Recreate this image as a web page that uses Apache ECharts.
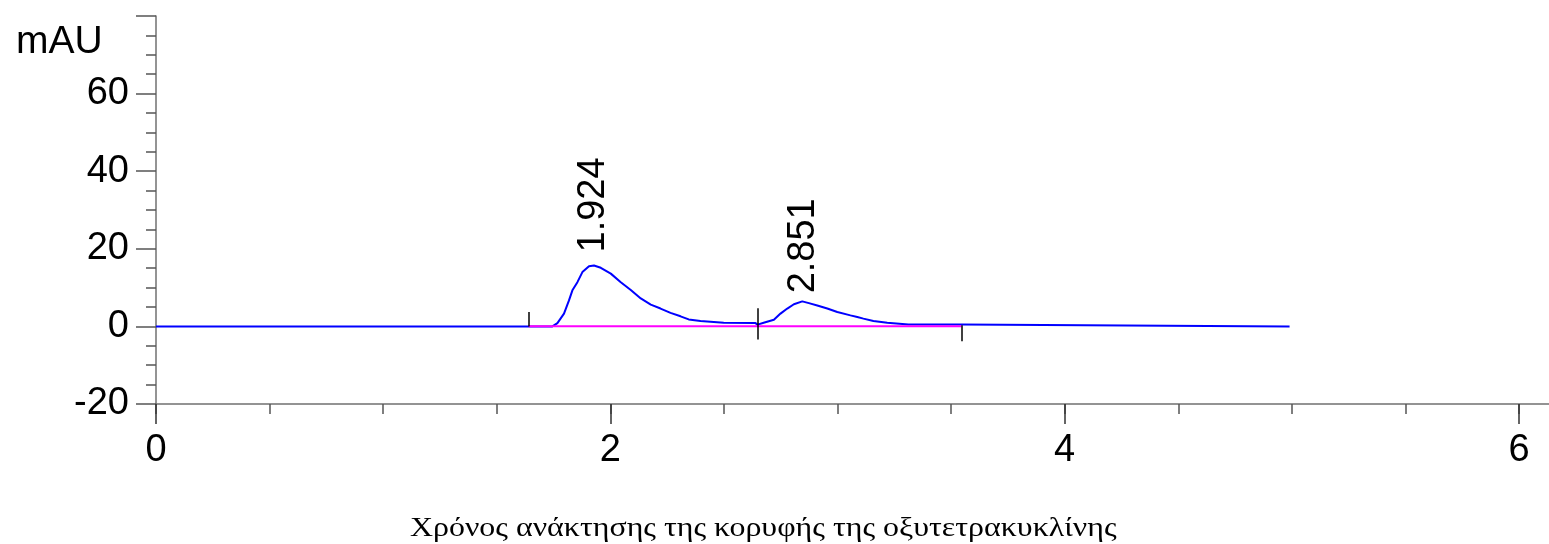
<!DOCTYPE html>
<html><head><meta charset="utf-8">
<script src="https://cdn.jsdelivr.net/npm/echarts@6/dist/echarts.min.js"></script>
<style>html,body{margin:0;padding:0;background:#fff}#c{width:1549px;height:544px}</style>
</head><body><div id="c"></div>
<script>
// Chromatogram trace (time in min, signal in mAU)
const timeMin = [0, 1.64, 1.745, 1.767, 1.796, 1.818, 1.833, 1.855, 1.877, 1.906, 1.928, 1.958, 2.002, 2.046, 2.090, 2.134, 2.178, 2.221, 2.265, 2.309, 2.345, 2.397, 2.499, 2.639, 2.648, 2.675, 2.720, 2.749, 2.779, 2.808, 2.845, 2.874, 2.911, 2.955, 2.999, 3.057, 3.087, 3.114, 3.158, 3.219, 3.312, 3.545, 3.55, 4.99];
const signal  = [0, 0, 0, 0.85, 3.3, 6.7, 9.3, 11.4, 14.0, 15.5, 15.7, 15.1, 13.6, 11.4, 9.4, 7.2, 5.6, 4.6, 3.5, 2.6, 1.8, 1.4, 0.95, 0.85, 0.45, 0.95, 1.7, 3.3, 4.6, 5.7, 6.45, 6.0, 5.4, 4.6, 3.7, 2.84, 2.4, 2.0, 1.4, 0.95, 0.5, 0.5, 0, 0];
// Peak labels
const peakTimes = [1.924, 2.851];
const peakHeights = [15.7, 6.45];
// Integration markers
const markerTimes = [1.641, 2.651, 3.545];
const markerTop = [3.7, 4.65, 0.3];
const markerBottom = [0, -3.35, -3.8];
// Integration baseline
const baseTimes = [1.641, 3.545];
const baseValues = [0.05, 0.05];
// Axis ticks
const xMajorTicks = [0, 2, 4, 6];
const xMinorTicks = [0, 0.5, 1, 1.5, 2, 2.5, 3, 3.5, 4, 4.5, 5, 5.5, 6];
const yTitle = 'mAU';
const xTitle = 'Χρόνος ανάκτησης της κορυφής της οξυτετρακυκλίνης';

const chart = echarts.init(document.getElementById('c'), null, {renderer: 'canvas'});
const sans = '"Liberation Sans", Arial, sans-serif';
const option = {
  animation: false,
  backgroundColor: '#fff',
  grid: {left: 156, right: 0, top: 16, bottom: 140, containLabel: false},
  graphic: [
    {type: 'text', x: 16, y: 23, style: {text: yTitle, font: '39px ' + sans, fill: '#000'}},
    {type: 'text', x: 410, y: 515, scaleX: 1.14, style: {text: xTitle, font: '28px "Liberation Serif", "Times New Roman", serif', fill: '#000'}}
  ],
  xAxis: [
    {type: 'value', min: 0, max: 6.132, position: 'bottom',
     axisLine: {show: true, onZero: false, lineStyle: {color: '#707070', width: 1.5}},
     axisTick: {show: true, customValues: xMinorTicks, length: 10, lineStyle: {color: '#555', width: 1.5}},
     axisLabel: {show: false}, splitLine: {show: false}},
    {type: 'value', min: 0, max: 6.132, position: 'bottom',
     axisLine: {show: false, onZero: false},
     axisTick: {show: true, customValues: xMajorTicks, length: 20, lineStyle: {color: '#333', width: 1.5}},
     axisLabel: {show: true, customValues: xMajorTicks, fontSize: 38, fontFamily: sans, color: '#000', margin: 28},
     splitLine: {show: false}}
  ],
  yAxis: {type: 'value', min: -20, max: 80, interval: 20,
    axisLine: {show: true, onZero: false, lineStyle: {color: '#707070', width: 1.5}},
    axisTick: {show: true, length: 20, lineStyle: {color: '#555', width: 1.5}},
    minorTick: {show: true, splitNumber: 4, length: 10, lineStyle: {color: '#555', width: 1.5}},
    axisLabel: {fontSize: 38, fontFamily: sans, color: '#000', margin: 27,
      formatter: v => (v === 80 ? '' : String(v))},
    splitLine: {show: false}, minorSplitLine: {show: false}},
  series: [
    {type: 'line', name: 'signal', xAxisIndex: 0, showSymbol: false, symbol: 'none',
     data: timeMin.map((t, i) => [t, signal[i]]),
     lineStyle: {color: '#0000FF', width: 2}, z: 2},
    {type: 'line', name: 'baseline', xAxisIndex: 0, showSymbol: false, symbol: 'none',
     data: baseTimes.map((t, i) => [t, baseValues[i]]),
     lineStyle: {color: '#FF00FF', width: 2}, z: 3,
     markLine: {silent: true, symbol: 'none', label: {show: false},
       lineStyle: {color: '#000', width: 1.5, type: 'solid'},
       data: markerTimes.map((t, i) => [{coord: [t, markerBottom[i]]}, {coord: [t, markerTop[i]]}])}},
    {type: 'scatter', name: 'peaks', xAxisIndex: 0, symbolSize: 0, z: 4,
     data: peakTimes.map((t, i) => ({value: [t, peakHeights[i]],
       label: {distance: i === 0 ? 13 : 8}})),
     label: {show: true, position: 'top', rotate: 90, align: 'left', verticalAlign: 'middle',
       fontSize: 38, fontFamily: sans, color: '#000', opacity: 1,
       formatter: p => p.value[0].toFixed(3)}}
  ]
};
chart.setOption(option);
</script></body></html>
